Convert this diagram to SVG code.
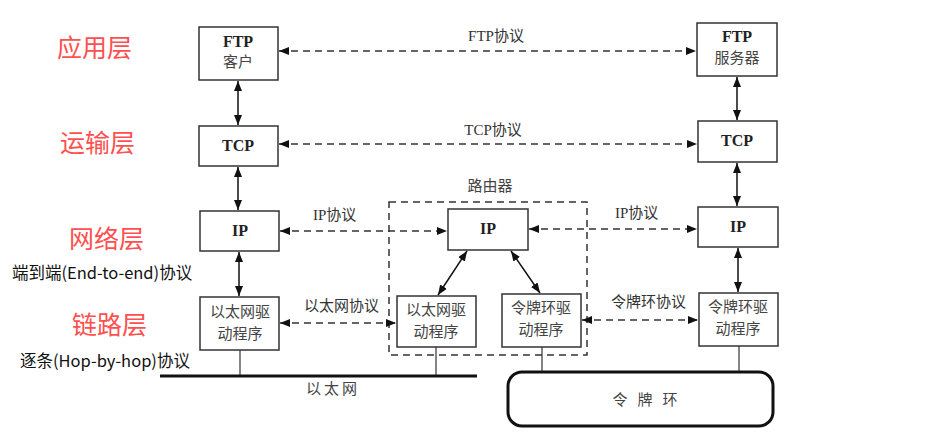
<svg xmlns="http://www.w3.org/2000/svg" width="936" height="442" viewBox="0 0 936 442">
<defs>
<marker id="ah" viewBox="0 0 10 8" refX="10" refY="4" markerWidth="10" markerHeight="8" markerUnits="userSpaceOnUse" orient="auto-start-reverse">
<path d="M0,0 L10,4 L0,8 Z" fill="#111"/>
</marker>
</defs>
<style>
.box{fill:#fff;stroke:#333;stroke-width:1.5}
.bt{font-family:"Liberation Serif","Noto Sans CJK SC",serif;font-size:16px;font-weight:600;fill:#222;text-anchor:middle}
.bc{font-family:"Noto Sans CJK SC",sans-serif;font-size:15px;fill:#444;text-anchor:middle}
.lay{font-family:"Noto Sans CJK SC",sans-serif;font-size:25px;fill:#ff5050}
.note{font-family:"Noto Sans CJK SC",sans-serif;font-size:16.5px;fill:#111}
.pl{font-family:"Liberation Serif","Noto Sans CJK SC",serif;font-size:15px;fill:#333}
.dash{stroke:#333;stroke-width:1.5;stroke-dasharray:7,5;fill:none}
.solid{stroke:#111;stroke-width:1.5;fill:none}
.thin{stroke:#333;stroke-width:1.2;fill:none}
</style>
<rect width="936" height="442" fill="#fff"/>

<g id="layer-labels">
<text class="lay" x="57" y="57">应用层</text>
<text class="lay" x="60" y="152">运输层</text>
<text class="lay" x="69" y="248">网络层</text>
<text class="lay" x="72" y="334">链路层</text>
<text class="note" x="12" y="279">端到端(End-to-end)协议</text>
<text class="note" x="20" y="367">逐条(Hop-by-hop)协议</text>
</g>

<g id="router-frame">
<rect x="389" y="202" width="198" height="153" fill="none" stroke="#333" stroke-width="1.5" stroke-dasharray="7,5"/>
<text class="bc" x="490" y="191">路由器</text>
</g>

<g id="ftp-client"><rect class="box" x="199" y="27" width="79" height="53"/><text class="bt" x="238" y="47">FTP</text><text class="bc" x="238" y="67">客户</text></g>
<g id="tcp-left"><rect class="box" x="199" y="126" width="79" height="40"/><text class="bt" x="238" y="151">TCP</text></g>
<g id="ip-left"><rect class="box" x="200" y="211" width="79" height="40"/><text class="bt" x="240" y="236">IP</text></g>
<g id="eth-left"><rect class="box" x="200" y="297" width="79" height="53"/><text class="bc" x="240" y="317">以太网驱</text><text class="bc" x="240" y="339">动程序</text></g>

<g id="ip-router"><rect class="box" x="448" y="209" width="80" height="41"/><text class="bt" x="488" y="234">IP</text></g>
<g id="eth-router"><rect class="box" x="397" y="296" width="79" height="51"/><text class="bc" x="436" y="315">以太网驱</text><text class="bc" x="436" y="337">动程序</text></g>
<g id="tr-router"><rect class="box" x="502" y="294" width="79" height="53"/><text class="bc" x="541" y="313">令牌环驱</text><text class="bc" x="541" y="335">动程序</text></g>

<g id="ftp-server"><rect class="box" x="697" y="23" width="80" height="53"/><text class="bt" x="737" y="42">FTP</text><text class="bc" x="737" y="63">服务器</text></g>
<g id="tcp-right"><rect class="box" x="698" y="121" width="79" height="41"/><text class="bt" x="737" y="146">TCP</text></g>
<g id="ip-right"><rect class="box" x="698" y="207" width="80" height="40"/><text class="bt" x="738" y="232">IP</text></g>
<g id="tr-right"><rect class="box" x="699" y="293" width="79" height="53"/><text class="bc" x="738" y="312">令牌环驱</text><text class="bc" x="738" y="334">动程序</text></g>

<g id="ethernet">
<line x1="160" y1="376" x2="477" y2="376" stroke="#111" stroke-width="3"/>
<text class="bc" x="333" y="394" letter-spacing="3">以太网</text>
</g>
<g id="token-ring">
<rect x="508" y="372" width="265" height="54" rx="14" fill="#fff" stroke="#111" stroke-width="3"/>
<text class="bc" x="650" y="405" letter-spacing="10">令牌环</text>
</g>

<g id="connectors">
<line class="dash" x1="279" y1="51" x2="696" y2="51" marker-start="url(#ah)" marker-end="url(#ah)"/>
<text class="pl" x="496" y="41" text-anchor="middle">FTP协议</text>
<line class="dash" x1="279" y1="144" x2="697" y2="144" marker-start="url(#ah)" marker-end="url(#ah)"/>
<text class="pl" x="493" y="135" text-anchor="middle">TCP协议</text>
<line class="dash" x1="280" y1="231" x2="447" y2="231" marker-start="url(#ah)" marker-end="url(#ah)"/>
<text class="pl" x="313" y="220">IP协议</text>
<line class="dash" x1="529" y1="229" x2="697" y2="229" marker-start="url(#ah)" marker-end="url(#ah)"/>
<text class="pl" x="615" y="218">IP协议</text>
<line class="dash" x1="280" y1="323" x2="396" y2="323" marker-start="url(#ah)" marker-end="url(#ah)"/>
<text class="pl" x="304" y="311">以太网协议</text>
<line class="dash" x1="582" y1="320" x2="698" y2="320" marker-start="url(#ah)" marker-end="url(#ah)"/>
<text class="pl" x="611" y="307">令牌环协议</text>

<line class="solid" x1="238" y1="81" x2="238" y2="125" marker-start="url(#ah)" marker-end="url(#ah)"/>
<line class="solid" x1="238" y1="167" x2="238" y2="210" marker-start="url(#ah)" marker-end="url(#ah)"/>
<line class="solid" x1="239" y1="252" x2="239" y2="296" marker-start="url(#ah)" marker-end="url(#ah)"/>
<line class="solid" x1="737" y1="77" x2="737" y2="120" marker-start="url(#ah)" marker-end="url(#ah)"/>
<line class="solid" x1="737" y1="163" x2="737" y2="206" marker-start="url(#ah)" marker-end="url(#ah)"/>
<line class="solid" x1="738" y1="248" x2="738" y2="292" marker-start="url(#ah)" marker-end="url(#ah)"/>
<line class="solid" x1="467" y1="251" x2="438" y2="295" marker-start="url(#ah)" marker-end="url(#ah)"/>
<line class="solid" x1="511" y1="251" x2="540" y2="293" marker-start="url(#ah)" marker-end="url(#ah)"/>

<line class="thin" x1="240" y1="350" x2="240" y2="375"/>
<line class="thin" x1="436" y1="347" x2="436" y2="375"/>
<line class="thin" x1="542" y1="347" x2="542" y2="371"/>
<line class="thin" x1="739" y1="346" x2="739" y2="371"/>
</g>
</svg>
